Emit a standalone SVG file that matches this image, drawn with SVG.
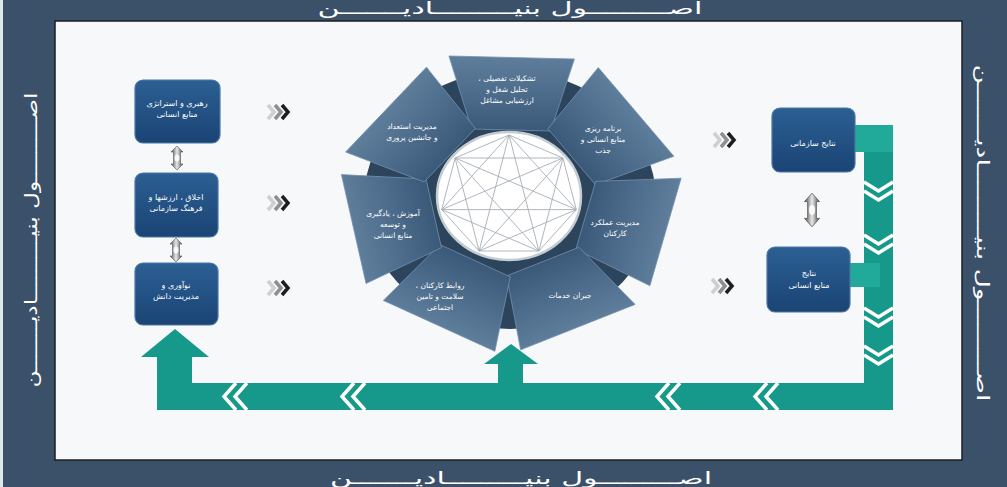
<svg xmlns="http://www.w3.org/2000/svg" xmlns:xlink="http://www.w3.org/1999/xlink" width="1007" height="487" viewBox="0 0 1007 487">
<defs>
<style>
.t{font-family:"DejaVu Sans","Noto Sans",sans-serif;fill:#ffffff;text-anchor:middle;direction:rtl}
.frame{font-size:17px}
.seg{font-size:7.5px}
.bx{font-size:8px}
.box{fill:url(#boxg);stroke:#4a78a6;stroke-width:1.2}
.grn{fill:#16998b}
.grnl{fill:#21a999}
.wch{fill:none;stroke:#ffffff;stroke-width:3.5;stroke-linejoin:miter}
.chord{fill:none;stroke:#a6aeb6;stroke-width:0.9}
</style>
<linearGradient id="boxg" x1="0" y1="0" x2="0" y2="1">
<stop offset="0" stop-color="#2c5f93"/>
<stop offset="1" stop-color="#1a4474"/>
</linearGradient>
<linearGradient id="segg" x1="0" y1="0" x2="0" y2="1">
<stop offset="0" stop-color="#5f7e9c"/>
<stop offset="0.5" stop-color="#4d6c8b"/>
<stop offset="1" stop-color="#3a5877"/>
</linearGradient>
<linearGradient id="dblg" x1="0" y1="0" x2="1" y2="0">
<stop offset="0" stop-color="#4a4a4a"/>
<stop offset="0.5" stop-color="#e8e8e8"/>
<stop offset="1" stop-color="#4a4a4a"/>
</linearGradient>
<polygon id="seg" points="-54,-143 57,-140 36,-68 -34,-70" fill="url(#segg)" stroke="#7591ad" stroke-width="0.8" vector-effect="non-scaling-stroke"/>
<g id="chev3">
<polyline points="0,-7 6,0 0,7" fill="none" stroke="#cfcfcf" stroke-width="3.5"/>
<polyline points="7,-7 13,0 7,7" fill="none" stroke="#8f8f8f" stroke-width="3.5"/>
<polyline points="14,-7 20,0 14,7" fill="none" stroke="#1e1e1e" stroke-width="3.5"/>
</g>
<g id="dbl">
<polygon points="0,-12 6,-6 3.5,-6 3.5,6 6,6 0,12 -6,6 -3.5,6 -3.5,-6 -6,-6" fill="url(#dblg)" stroke="#555" stroke-width="0.6"/>
<ellipse cx="0" cy="0" rx="2.5" ry="3.5" fill="#ffffff" opacity="0.85"/>
</g>
</defs>

<rect x="0" y="0" width="1007" height="487" fill="#3b5169"/>
<rect x="0" y="0" width="3" height="487" fill="#dfe8ea"/>
<rect x="55" y="21" width="907" height="439" fill="#f6f8f9" stroke="#1b1f24" stroke-width="1.5"/>

<g id="frame-labels">
<text class="t frame" x="510" y="14" textLength="385" lengthAdjust="spacingAndGlyphs">اصـــــــــول بنیـــــــــادیـــــــن</text>
<text class="t frame" x="521" y="484" textLength="382" lengthAdjust="spacingAndGlyphs">اصـــــــــول بنیـــــــــادیـــــــن</text>
<text class="t frame" transform="translate(37,240) rotate(-90)" x="0" y="0" textLength="295" lengthAdjust="spacingAndGlyphs">اصـــــــــول بنیـــــــــادیـــــــن</text>
<text class="t frame" transform="translate(977,233) rotate(90)" x="0" y="0" textLength="337" lengthAdjust="spacingAndGlyphs">اصـــــــــول بنیـــــــــادیـــــــن</text>
</g>

<g id="wheel">
<ellipse cx="510" cy="200" rx="146" ry="129" fill="#2c445c"/>
<g transform="translate(510,199) scale(1.13,1)">
<use xlink:href="#seg"/>
<use xlink:href="#seg" transform="rotate(51.4286)"/>
<use xlink:href="#seg" transform="rotate(102.857)"/>
<use xlink:href="#seg" transform="rotate(154.286)"/>
<use xlink:href="#seg" transform="rotate(205.714)"/>
<use xlink:href="#seg" transform="rotate(257.143)"/>
<use xlink:href="#seg" transform="rotate(308.571)"/>
</g>
<ellipse cx="509" cy="196" rx="72" ry="64" fill="#ffffff" stroke="#c3cbd3" stroke-width="2.5"/>
<path class="chord" d="M509,135 L562.9,158 L576.3,209.6 L538.9,251 L479.1,251 L441.7,209.6 L455.1,158 Z M509,135 L576.3,209.6 L479.1,251 L455.1,158 L562.9,158 L538.9,251 L441.7,209.6 Z M509,135 L538.9,251 L455.1,158 L576.3,209.6 L441.7,209.6 L562.9,158 L479.1,251 Z"/>
</g>

<g id="seg-1"><text class="t seg" x="507" y="81">تشکیلات تفصیلی ،</text><text class="t seg" x="507" y="92">تحلیل شغل و</text><text class="t seg" x="507" y="103">ارزشیابی مشاغل</text></g>
<g id="seg-2"><text class="t seg" x="603" y="131">برنامه ریزی</text><text class="t seg" x="603" y="142">منابع انسانی و</text><text class="t seg" x="603" y="153">جذب</text></g>
<g id="seg-3"><text class="t seg" x="615" y="225">مدیریت عملکرد</text><text class="t seg" x="615" y="236">کارکنان</text></g>
<g id="seg-4"><text class="t seg" x="570" y="298">جبران خدمات</text></g>
<g id="seg-5"><text class="t seg" x="440" y="288">روابط کارکنان ،</text><text class="t seg" x="440" y="299">سلامت و تامین</text><text class="t seg" x="440" y="310">اجتماعی</text></g>
<g id="seg-6"><text class="t seg" x="393" y="216">آموزش ، یادگیری</text><text class="t seg" x="393" y="227">و توسعه</text><text class="t seg" x="393" y="238">منابع انسانی</text></g>
<g id="seg-7"><text class="t seg" x="412" y="129">مدیریت استعداد</text><text class="t seg" x="412" y="140">و جانشین پروری</text></g>

<g id="connectors">
<rect class="grn" x="157" y="383" width="736" height="27"/>
<rect class="grn" x="157" y="355" width="35" height="30"/>
<polygon class="grn" points="141,357 175,329 209,357"/>
<rect class="grn" x="498" y="362" width="25" height="22"/>
<polygon class="grn" points="484,364 511,344 538,364"/>
<rect class="grn" x="864" y="125" width="29" height="285"/>
<rect class="grnl" x="855" y="125" width="38" height="27"/>
<rect class="grnl" x="850" y="263" width="30" height="24"/>
<polyline class="wch" points="236,383 224,396.5 236,410"/>
<polyline class="wch" points="247,383 235,396.5 247,410"/>
<polyline class="wch" points="354,383 342,396.5 354,410"/>
<polyline class="wch" points="365,383 353,396.5 365,410"/>
<polyline class="wch" points="669,383 657,396.5 669,410"/>
<polyline class="wch" points="680,383 668,396.5 680,410"/>
<polyline class="wch" points="767,383 755,396.5 767,410"/>
<polyline class="wch" points="778,383 766,396.5 778,410"/>
<polyline class="wch" points="864,182 878.5,191 893,182"/>
<polyline class="wch" points="864,191 878.5,200 893,191"/>
<polyline class="wch" points="864,235 878.5,244 893,235"/>
<polyline class="wch" points="864,244 878.5,253 893,244"/>
<polyline class="wch" points="864,308 878.5,317 893,308"/>
<polyline class="wch" points="864,317 878.5,326 893,317"/>
<polyline class="wch" points="864,346 878.5,355 893,346"/>
<polyline class="wch" points="864,355 878.5,364 893,355"/>
<use xlink:href="#chev3" transform="translate(268,112)"/>
<use xlink:href="#chev3" transform="translate(268,203)"/>
<use xlink:href="#chev3" transform="translate(268,288)"/>
<use xlink:href="#chev3" transform="translate(714,140)"/>
<use xlink:href="#chev3" transform="translate(712,286)"/>
<use xlink:href="#dbl" transform="translate(177,158)"/>
<use xlink:href="#dbl" transform="translate(176,250)"/>
<use xlink:href="#dbl" transform="translate(812,210) scale(1.25,1.4)"/>
</g>

<g id="node-leadership"><rect class="box" x="135" y="80" width="85" height="63" rx="8"/><text class="t bx" x="177" y="106">رهبری و استراتژی</text><text class="t bx" x="177" y="117">منابع انسانی</text></g>
<g id="node-ethics"><rect class="box" x="135" y="173" width="83" height="64" rx="8"/><text class="t bx" x="176" y="200">اخلاق ، ارزشها و</text><text class="t bx" x="176" y="211">فرهنگ سازمانی</text></g>
<g id="node-innovation"><rect class="box" x="135" y="263" width="83" height="62" rx="8"/><text class="t bx" x="176" y="288">نوآوری و</text><text class="t bx" x="176" y="299">مدیریت دانش</text></g>
<g id="node-org-results"><rect class="box" x="772" y="108" width="83" height="64" rx="8"/><text class="t bx" x="813" y="146">نتایج سازمانی</text></g>
<g id="node-hr-results"><rect class="box" x="767" y="247" width="83" height="65" rx="8"/><text class="t bx" x="809" y="276">نتایج</text><text class="t bx" x="809" y="288">منابع انسانی</text></g>
</svg>
